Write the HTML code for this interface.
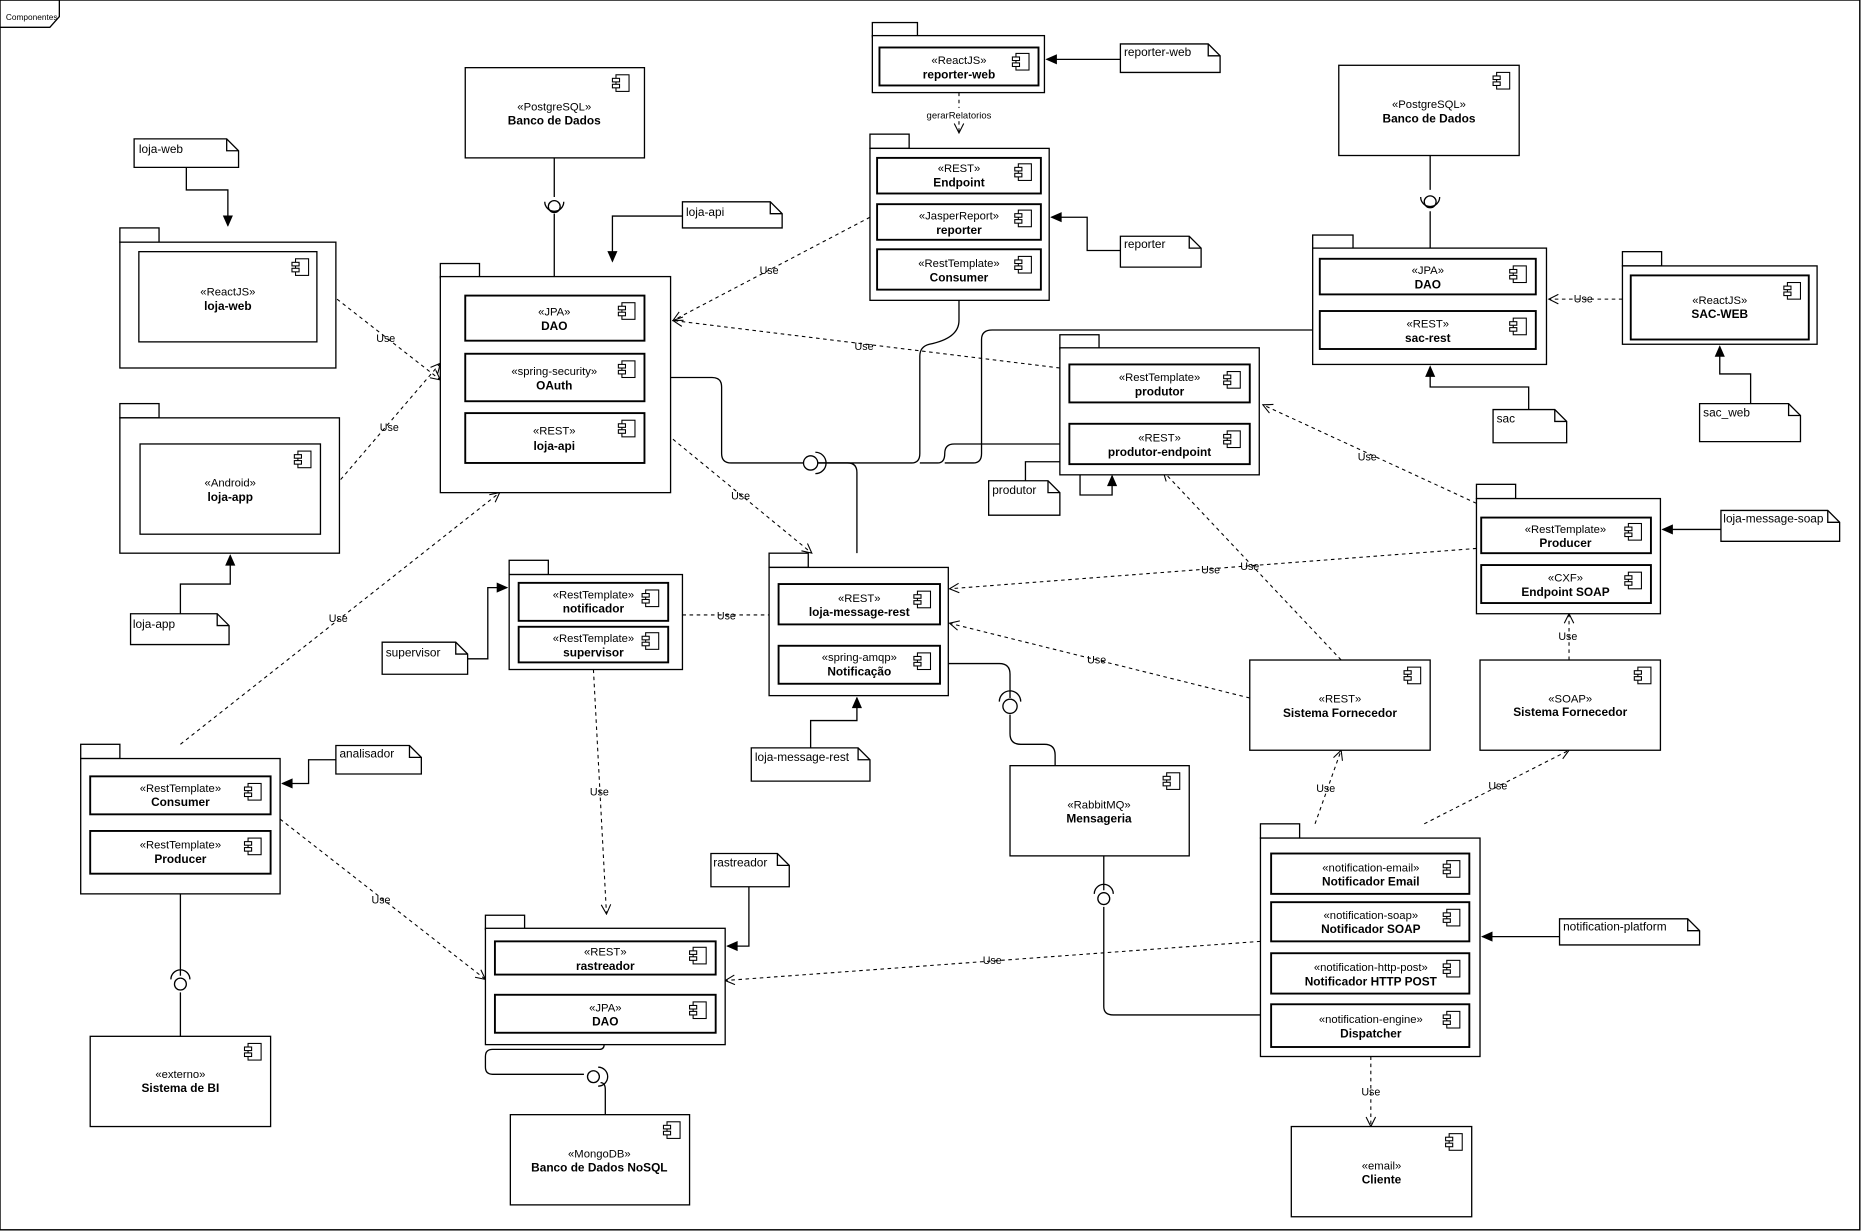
<!DOCTYPE html>
<html><head><meta charset="utf-8"><style>
html,body{margin:0;padding:0;background:#fff;}
svg{display:block;}
text{font-family:"Liberation Sans",sans-serif;fill:#000;}
.st{font-size:9.5px;text-anchor:middle;}
.nm{font-size:10px;font-weight:bold;text-anchor:middle;}
.lb{font-size:9px;text-anchor:middle;}
.nt{font-size:10px;}
.b{fill:#fff;stroke:#000;stroke-width:1.1;}
.c{fill:#fff;stroke:#000;stroke-width:1.6;}
.l{fill:none;stroke:#000;stroke-width:1.1;}
.d{fill:none;stroke:#000;stroke-width:0.9;stroke-dasharray:3,3;}
</style></head><body>
<svg width="1861" height="1231" viewBox="0 0 1568 1037" preserveAspectRatio="none" xmlns="http://www.w3.org/2000/svg">
<defs>
<marker id="o" markerWidth="10" markerHeight="10" refX="9" refY="5" orient="auto" markerUnits="userSpaceOnUse"><path d="M1,1 L9,5 L1,9" fill="none" stroke="#000" stroke-width="0.9"/></marker>
<marker id="s" markerWidth="10" markerHeight="10" refX="9" refY="5" orient="auto" markerUnits="userSpaceOnUse"><path d="M1,1.5 L9,5 L1,8.5 Z" fill="#000" stroke="#000"/></marker>
<g id="ic"><rect x="3" y="0" width="11" height="14" fill="#fff" stroke="#000" stroke-width="0.9"/><rect x="0" y="3" width="6" height="3" fill="#fff" stroke="#000" stroke-width="0.9"/><rect x="0" y="8" width="6" height="3" fill="#fff" stroke="#000" stroke-width="0.9"/></g>
</defs>
<rect x="0" y="0" width="1567" height="1036" fill="#fff" stroke="#000" stroke-width="1.2"/>
<path d="M0,0 H50 V14 L42,23 H0" class="l"/>
<text x="5" y="17" style="font-size:7px">Componentes</text>

<!-- connectors (solid) -->
<path class="l" d="M467,133 V166 M467,180 V233"/>
<path class="l" d="M157,141 V160 H192 V190" marker-end="url(#s)"/>
<path class="l" d="M152,517 V492 H194 V468" marker-end="url(#s)"/>
<path class="l" d="M575,182 H516 V220" marker-end="url(#s)"/>
<path class="l" d="M944,50 H882" marker-end="url(#s)"/>
<path class="l" d="M944,211 H916 V183 H886" marker-end="url(#s)"/>
<path class="l" d="M1205,131 V160 M1205,178 V209"/>
<path class="l" d="M1288,345 V326 H1205 V309" marker-end="url(#s)"/>
<path class="l" d="M1475,340 V315 H1449 V292" marker-end="url(#s)"/>
<path class="l" d="M864,405 V389 H910 V417 H937 V401" marker-end="url(#s)"/>
<path class="l" d="M543,318 H600 Q608,318 608,326 V382 Q608,390 616,390 H677"/>
<path class="l" d="M689,390 H714 Q722,390 722,398 V466"/>
<path class="l" d="M689,390 H768 Q775,390 775,382 V300 Q775,292 783,290 Q808,285 808,270 V244"/>
<path class="l" d="M775,390 H790 Q796,390 796,382 Q796,374 804,374 H901"/>
<path class="l" d="M796,390 H820 Q827,390 827,382 V286 Q827,278 836,278 H1106"/>
<path class="l" d="M683,630 V607 H722 V588" marker-end="url(#s)"/>
<path class="l" d="M792,559 H842 Q851,559 851,568 V588 M851,602 V618 Q851,627 860,627 H880 Q889,627 889,636 V645"/>
<path class="l" d="M394,555 H411 V495 H427" marker-end="url(#s)"/>
<path class="l" d="M1450,446 H1401" marker-end="url(#s)"/>
<path class="l" d="M283,640 H260 V660 H238" marker-end="url(#s)"/>
<path class="l" d="M152,753 V822 M152,836 V873"/>
<path class="l" d="M631,747 V797 H613" marker-end="url(#s)"/>
<path class="l" d="M509,870 V880 Q509,884 505,884 H415 Q409,884 409,890 V899 Q409,905 415,905 H492 M506,912 Q510,912 510,918 V939"/>
<path class="l" d="M1314,789 H1249" marker-end="url(#s)"/>
<path class="l" d="M930,721 V750 M930,764 V848 Q930,855 938,855 H1062"/>

<!-- lollipops -->
<circle cx="467" cy="174" r="5" class="b"/><path class="l" d="M459,170 A8,8 0 0 0 475,170"/>
<circle cx="683" cy="390" r="6" class="b"/><path class="l" d="M687,381 A9,9 0 0 1 687,399"/>
<circle cx="1205" cy="170" r="5" class="b"/><path class="l" d="M1197,166 A8,8 0 0 0 1213,166"/>
<circle cx="851" cy="595" r="6" class="b"/><path class="l" d="M842,591 A9,9 0 0 1 860,591"/>
<circle cx="930" cy="757" r="5" class="b"/><path class="l" d="M922,753 A8,8 0 0 1 938,753"/>
<circle cx="152" cy="829" r="5" class="b"/><path class="l" d="M144,825 A8,8 0 0 1 160,825"/>
<circle cx="500" cy="907" r="5" class="b"/><path class="l" d="M504,899 A8,8 0 0 1 504,915"/>

<!-- dashed Use -->
<path class="d" d="M284,252 L371,320" marker-end="url(#o)"/><text class="lb" x="325" y="288">Use</text>
<path class="d" d="M287,404 L371,306" marker-end="url(#o)"/><text class="lb" x="328" y="363">Use</text>
<path class="d" d="M808,78 V112" marker-end="url(#o)"/><rect x="780" y="91" width="56" height="11" fill="#fff"/><text class="lb" x="808" y="100" style="font-size:8px">gerarRelatorios</text>
<path class="d" d="M733,183 L567,270" marker-end="url(#o)"/><text class="lb" x="648" y="231">Use</text>
<path class="d" d="M893,310 L567,270" marker-end="url(#o)"/><text class="lb" x="728" y="295">Use</text>
<path class="d" d="M1367,252 H1305" marker-end="url(#o)"/><text class="lb" x="1334" y="255" style="font-size:9px">Use</text>
<path class="d" d="M567,370 L684,466" marker-end="url(#o)"/><text class="lb" x="624" y="421">Use</text>
<path class="d" d="M575,518 H656" marker-end="url(#o)"/><text class="lb" x="612" y="522">Use</text>
<path class="d" d="M500,564 L511,770" marker-end="url(#o)"/><text class="lb" x="505" y="670">Use</text>
<path class="d" d="M1244,462 L800,496" marker-end="url(#o)"/><text class="lb" x="1020" y="483">Use</text>
<path class="d" d="M1244,424 L1064,341" marker-end="url(#o)"/><text class="lb" x="1152" y="388">Use</text>
<path class="d" d="M1053,588 L800,525" marker-end="url(#o)"/><text class="lb" x="924" y="559">Use</text>
<path class="d" d="M1130,556 L980,397" marker-end="url(#o)"/><text class="lb" x="1053" y="480">Use</text>
<path class="d" d="M1322,556 V517" marker-end="url(#o)"/><text class="lb" x="1321" y="539">Use</text>
<path class="d" d="M152,627 L421,415" marker-end="url(#o)"/><text class="lb" x="285" y="524">Use</text>
<path class="d" d="M236,690 L409,825" marker-end="url(#o)"/><text class="lb" x="321" y="761">Use</text>
<path class="d" d="M1062,793 L611,826" marker-end="url(#o)"/><text class="lb" x="836" y="812">Use</text>
<path class="d" d="M1108,694 L1130,632" marker-end="url(#o)"/><text class="lb" x="1117" y="667">Use</text>
<path class="d" d="M1200,694 L1322,632" marker-end="url(#o)"/><text class="lb" x="1262" y="665">Use</text>
<path class="d" d="M1155,890 V949" marker-end="url(#o)"/><text class="lb" x="1155" y="923">Use</text>

<!-- packages -->
<rect class="b" x="101" y="192" width="33" height="12"/><rect class="b" x="101" y="204" width="182" height="106"/>
<rect class="b" x="101" y="340" width="33" height="12"/><rect class="b" x="101" y="352" width="185" height="114"/>
<rect class="b" x="371" y="222" width="33" height="12"/><rect class="b" x="371" y="233" width="194" height="182"/>
<rect class="b" x="735" y="19" width="38" height="12"/><rect class="b" x="735" y="30" width="145" height="48"/>
<rect class="b" x="733" y="113" width="33" height="12"/><rect class="b" x="733" y="125" width="151" height="128"/>
<rect class="b" x="1106" y="198" width="34" height="12"/><rect class="b" x="1106" y="209" width="197" height="98"/>
<rect class="b" x="1367" y="212" width="33" height="12"/><rect class="b" x="1367" y="224" width="164" height="66"/>
<rect class="b" x="893" y="282" width="33" height="12"/><rect class="b" x="893" y="293" width="168" height="107"/>
<rect class="b" x="648" y="466" width="33" height="12"/><rect class="b" x="648" y="478" width="151" height="108"/>
<rect class="b" x="429" y="472" width="33" height="12"/><rect class="b" x="429" y="484" width="146" height="80"/>
<rect class="b" x="1244" y="408" width="33" height="12"/><rect class="b" x="1244" y="420" width="155" height="97"/>
<rect class="b" x="68" y="627" width="33" height="12"/><rect class="b" x="68" y="639" width="168" height="114"/>
<rect class="b" x="409" y="771" width="33" height="12"/><rect class="b" x="409" y="782" width="202" height="98"/>
<rect class="b" x="1062" y="694" width="33" height="12"/><rect class="b" x="1062" y="706" width="185" height="184"/>

<!-- components -->
<rect class="b" x="392" y="57" width="151" height="76"/><use href="#ic" x="516" y="63"/><text class="st" x="467" y="93">«PostgreSQL»</text><text class="nm" x="467" y="105">Banco de Dados</text>
<rect class="b" x="117" y="212" width="150" height="76"/><use href="#ic" x="246" y="218"/><text class="st" x="192" y="249">«ReactJS»</text><text class="nm" x="192" y="261">loja-web</text>
<rect class="b" x="118" y="374" width="152" height="76"/><use href="#ic" x="248" y="380"/><text class="st" x="194" y="410">«Android»</text><text class="nm" x="194" y="422">loja-app</text>
<rect class="c" x="392" y="249" width="151" height="38"/><use href="#ic" x="521" y="255"/><text class="st" x="467" y="266">«JPA»</text><text class="nm" x="467" y="278">DAO</text>
<rect class="c" x="392" y="298" width="151" height="40"/><use href="#ic" x="521" y="304"/><text class="st" x="467" y="316">«spring-security»</text><text class="nm" x="467" y="328">OAuth</text>
<rect class="c" x="392" y="348" width="151" height="42"/><use href="#ic" x="521" y="354"/><text class="st" x="467" y="366">«REST»</text><text class="nm" x="467" y="379">loja-api</text>
<rect class="c" x="741" y="40" width="134" height="32"/><use href="#ic" x="853" y="45"/><text class="st" x="808" y="54">«ReactJS»</text><text class="nm" x="808" y="66">reporter-web</text>
<rect class="c" x="739" y="133" width="138" height="30"/><use href="#ic" x="855" y="138"/><text class="st" x="808" y="145">«REST»</text><text class="nm" x="808" y="157">Endpoint</text>
<rect class="c" x="739" y="172" width="138" height="30"/><use href="#ic" x="855" y="177"/><text class="st" x="808" y="185">«JasperReport»</text><text class="nm" x="808" y="197">reporter</text>
<rect class="c" x="739" y="210" width="138" height="34"/><use href="#ic" x="855" y="216"/><text class="st" x="808" y="225">«RestTemplate»</text><text class="nm" x="808" y="237">Consumer</text>
<rect class="b" x="1128" y="55" width="152" height="76"/><use href="#ic" x="1258" y="61"/><text class="st" x="1204" y="91">«PostgreSQL»</text><text class="nm" x="1204" y="103">Banco de Dados</text>
<rect class="c" x="1112" y="218" width="182" height="30"/><use href="#ic" x="1272" y="224"/><text class="st" x="1203" y="231">«JPA»</text><text class="nm" x="1203" y="243">DAO</text>
<rect class="c" x="1112" y="262" width="182" height="32"/><use href="#ic" x="1272" y="268"/><text class="st" x="1203" y="276">«REST»</text><text class="nm" x="1203" y="288">sac-rest</text>
<rect class="c" x="1374" y="232" width="150" height="54"/><use href="#ic" x="1503" y="238"/><text class="st" x="1449" y="256">«ReactJS»</text><text class="nm" x="1449" y="268">SAC-WEB</text>
<rect class="c" x="901" y="307" width="152" height="32"/><use href="#ic" x="1031" y="313"/><text class="st" x="977" y="321">«RestTemplate»</text><text class="nm" x="977" y="333">produtor</text>
<rect class="c" x="901" y="357" width="152" height="34"/><use href="#ic" x="1031" y="363"/><text class="st" x="977" y="372">«REST»</text><text class="nm" x="977" y="384">produtor-endpoint</text>
<rect class="c" x="656" y="492" width="136" height="34"/><use href="#ic" x="770" y="498"/><text class="st" x="724" y="507">«REST»</text><text class="nm" x="724" y="519">loja-message-rest</text>
<rect class="c" x="656" y="544" width="136" height="32"/><use href="#ic" x="770" y="550"/><text class="st" x="724" y="557">«spring-amqp»</text><text class="nm" x="724" y="569">Notificação</text>
<rect class="c" x="437" y="491" width="126" height="32"/><use href="#ic" x="541" y="497"/><text class="st" x="500" y="504">«RestTemplate»</text><text class="nm" x="500" y="516">notificador</text>
<rect class="c" x="437" y="528" width="126" height="30"/><use href="#ic" x="541" y="533"/><text class="st" x="500" y="541">«RestTemplate»</text><text class="nm" x="500" y="553">supervisor</text>
<rect class="c" x="1248" y="436" width="143" height="30"/><use href="#ic" x="1369" y="441"/><text class="st" x="1319" y="449">«RestTemplate»</text><text class="nm" x="1319" y="461">Producer</text>
<rect class="c" x="1248" y="476" width="143" height="32"/><use href="#ic" x="1369" y="482"/><text class="st" x="1319" y="490">«CXF»</text><text class="nm" x="1319" y="502">Endpoint SOAP</text>
<rect class="b" x="1053" y="556" width="152" height="76"/><use href="#ic" x="1183" y="562"/><text class="st" x="1129" y="592">«REST»</text><text class="nm" x="1129" y="604">Sistema Fornecedor</text>
<rect class="b" x="1247" y="556" width="152" height="76"/><use href="#ic" x="1377" y="562"/><text class="st" x="1323" y="592">«SOAP»</text><text class="nm" x="1323" y="603">Sistema Fornecedor</text>
<rect class="b" x="851" y="645" width="151" height="76"/><use href="#ic" x="980" y="651"/><text class="st" x="926" y="681">«RabbitMQ»</text><text class="nm" x="926" y="693">Mensageria</text>
<rect class="c" x="76" y="654" width="152" height="32"/><use href="#ic" x="206" y="660"/><text class="st" x="152" y="667">«RestTemplate»</text><text class="nm" x="152" y="679">Consumer</text>
<rect class="c" x="76" y="700" width="152" height="36"/><use href="#ic" x="206" y="706"/><text class="st" x="152" y="715">«RestTemplate»</text><text class="nm" x="152" y="727">Producer</text>
<rect class="b" x="76" y="873" width="152" height="76"/><use href="#ic" x="206" y="879"/><text class="st" x="152" y="908">«externo»</text><text class="nm" x="152" y="920">Sistema de BI</text>
<rect class="c" x="417" y="793" width="186" height="28"/><use href="#ic" x="581" y="798"/><text class="st" x="510" y="805">«REST»</text><text class="nm" x="510" y="817">rastreador</text>
<rect class="c" x="417" y="838" width="186" height="32"/><use href="#ic" x="581" y="844"/><text class="st" x="510" y="852">«JPA»</text><text class="nm" x="510" y="864">DAO</text>
<rect class="b" x="430" y="939" width="151" height="76"/><use href="#ic" x="559" y="945"/><text class="st" x="505" y="975">«MongoDB»</text><text class="nm" x="505" y="987">Banco de Dados NoSQL</text>
<rect class="c" x="1071" y="719" width="167" height="34"/><use href="#ic" x="1216" y="725"/><text class="st" x="1155" y="734">«notification-email»</text><text class="nm" x="1155" y="746">Notificador Email</text>
<rect class="c" x="1071" y="760" width="167" height="33"/><use href="#ic" x="1216" y="766"/><text class="st" x="1155" y="774">«notification-soap»</text><text class="nm" x="1155" y="786">Notificador SOAP</text>
<rect class="c" x="1071" y="803" width="167" height="34"/><use href="#ic" x="1216" y="809"/><text class="st" x="1155" y="818">«notification-http-post»</text><text class="nm" x="1155" y="830">Notificador HTTP POST</text>
<rect class="c" x="1071" y="846" width="167" height="36"/><use href="#ic" x="1216" y="852"/><text class="st" x="1155" y="862">«notification-engine»</text><text class="nm" x="1155" y="874">Dispatcher</text>
<rect class="b" x="1088" y="949" width="152" height="76"/><use href="#ic" x="1218" y="955"/><text class="st" x="1164" y="985">«email»</text><text class="nm" x="1164" y="997">Cliente</text>

<!-- notes -->
<g class="b">
<path d="M113,117 H191 L201,127 V141 H113 Z"/><path d="M944,37 H1018 L1028,47 V61 H944 Z"/>
<path d="M575,170 H649 L659,180 V192 H575 Z"/><path d="M944,199 H1002 L1012,209 V225 H944 Z"/>
<path d="M1258,345 H1310 L1320,355 V373 H1258 Z"/><path d="M1432,340 H1507 L1517,350 V372 H1432 Z"/>
<path d="M833,405 H883 L893,415 V434 H833 Z"/><path d="M633,630 H723 L733,640 V658 H633 Z"/>
<path d="M322,541 H384 L394,551 V568 H322 Z"/><path d="M1450,430 H1540 L1550,440 V456 H1450 Z"/>
<path d="M110,517 H183 L193,527 V543 H110 Z"/><path d="M283,628 H345 L355,638 V652 H283 Z"/>
<path d="M599,719 H655 L665,729 V747 H599 Z"/><path d="M1314,774 H1422 L1432,784 V796 H1314 Z"/>
</g>
<g class="l">
<path d="M191,117 V127 H201"/><path d="M1018,37 V47 H1028"/><path d="M649,170 V180 H659"/><path d="M1002,199 V209 H1012"/>
<path d="M1310,345 V355 H1320"/><path d="M1507,340 V350 H1517"/><path d="M883,405 V415 H893"/><path d="M723,630 V640 H733"/>
<path d="M384,541 V551 H394"/><path d="M1540,430 V440 H1550"/><path d="M183,517 V527 H193"/><path d="M345,628 V638 H355"/>
<path d="M655,719 V729 H665"/><path d="M1422,774 V784 H1432"/>
</g>
<text class="nt" x="117" y="129">loja-web</text><text class="nt" x="947" y="47">reporter-web</text>
<text class="nt" x="578" y="182">loja-api</text><text class="nt" x="947" y="209">reporter</text>
<text class="nt" x="1261" y="356">sac</text><text class="nt" x="1435" y="351">sac_web</text>
<text class="nt" x="836" y="416">produtor</text><text class="nt" x="636" y="641">loja-message-rest</text>
<text class="nt" x="325" y="553">supervisor</text><text class="nt" x="1452" y="440">loja-message-soap</text>
<text class="nt" x="112" y="529">loja-app</text><text class="nt" x="286" y="638">analisador</text>
<text class="nt" x="601" y="730">rastreador</text><text class="nt" x="1317" y="784">notification-platform</text>
</svg>
</body></html>
